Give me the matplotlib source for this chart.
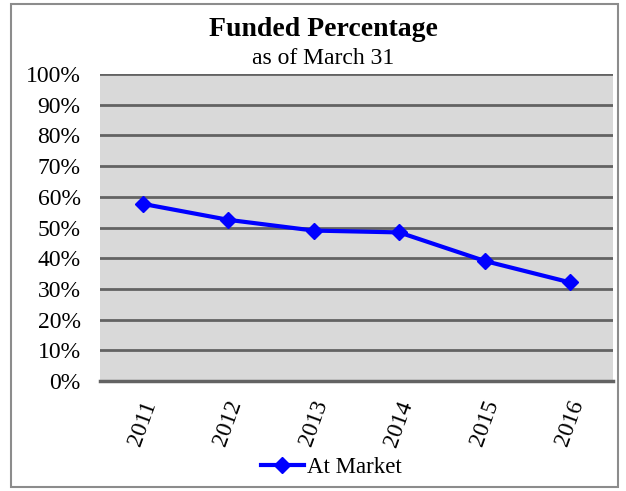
import numpy as np
import matplotlib.pyplot as plt
from matplotlib.patches import Rectangle

years = ['2011', '2012', '2013', '2014', '2015', '2016']
at_market = [57.7, 52.5, 49.0, 48.4, 39.1, 32.1]
yticks = list(range(0, 101, 10))

plt.rcParams['font.family'] = ['Liberation Serif', 'DejaVu Serif']

fig = plt.figure(figsize=(6.26, 4.91), dpi=100)
W, H = 626, 491
ax = fig.add_axes([100 / W, 1 - 381 / H, (613 - 100) / W, (381 - 74) / H])

# outer chart border
fig.patches.append(Rectangle((11 / W, 4 / H), 607 / W, 483 / H, transform=fig.transFigure,
                             fill=False, edgecolor='#8c8c8c', linewidth=1.5))

ax.set_facecolor('#d9d9d9')
x = np.arange(len(years))
ax.plot(x, at_market, color='#0000ff', linewidth=3, marker='D', markersize=8,
        label='At Market', zorder=3)

ax.set_xlim(-0.5, len(years) - 0.5)
ax.set_ylim(0, 100)
ax.set_yticks(yticks)
ax.set_yticklabels(['%d%%' % v for v in yticks], fontsize=17)
ax.set_xticks(x)
ax.set_xticklabels(years, rotation=70, fontsize=17, ha='center', va='top')
ax.tick_params(length=0, pad=14)
ax.tick_params(axis='x', pad=12)
ax.yaxis.grid(True, color='#636363', linewidth=2)
ax.set_axisbelow(True)
for s in ['top', 'right', 'left']:
    ax.spines[s].set_visible(False)
ax.spines['bottom'].set_color('#636363')
ax.spines['bottom'].set_linewidth(2.5)

fig.text(323 / W, 1 - 30 / H, 'Funded Percentage', ha='center', va='center',
         fontsize=20, fontweight='bold')
fig.text(323 / W, 1 - 58 / H, 'as of March 31', ha='center', va='center', fontsize=17)

fig.legend(loc='center', bbox_to_anchor=(331 / W, 1 - 467 / H), frameon=False,
           fontsize=16.5, handlelength=1.9, handletextpad=0.1)

fig.savefig('out.png', dpi=100)
